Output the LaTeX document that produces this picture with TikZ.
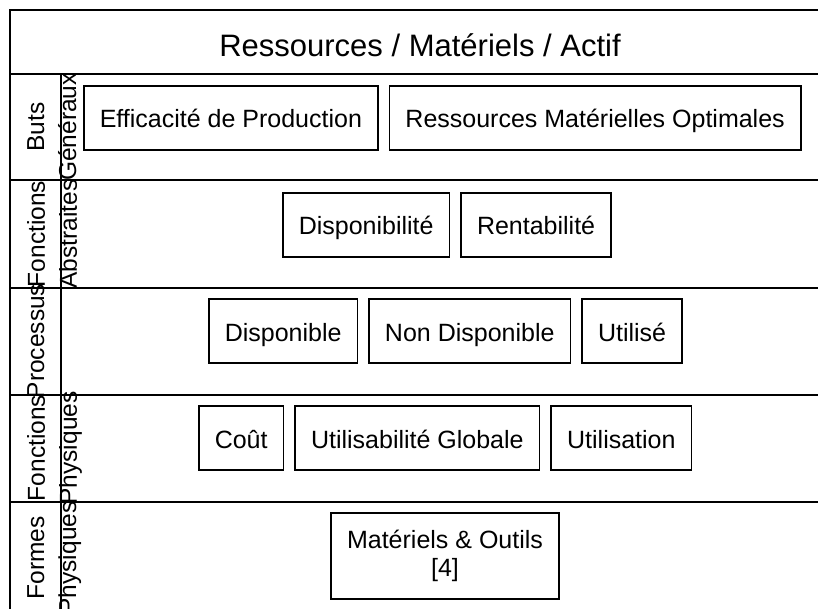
\documentclass[tikz,border=0pt]{standalone}
\usepackage{fontspec}
\setmainfont{Liberation Sans}
\usetikzlibrary{positioning}

\begin{document}
\begin{tikzpicture}[x=1pt, y=-1pt,
    every node/.style={font=\fontsize{25}{28}\selectfont},
    cellframe/.style={draw, line width=1.5pt, inner xsep=16pt, inner ysep=0pt},
    cell/.style={cellframe, minimum height=64pt, text height=20pt, text depth=0pt},
    level/.style={rotate=90, anchor=north, align=center, inner sep=0pt,
      font=\fontsize{24.5}{32}\selectfont},
    rule/.style={line width=2.2pt}]
  \useasboundingbox (0,0) rectangle (818,609);
  \clip (0,0) rectangle (818,609);

  \draw[rule] (830,10) -- (10,10) -- (10,630);
  \foreach \y in {74,180,288,395,502}
    \draw[rule] (10,\y) -- (830,\y);
  \draw[rule] (61,74) -- (61,630);

  \node[anchor=base, font=\fontsize{31}{36}\selectfont] (title) at (420,57) {Ressources / Matériels / Actif};

  \node[level] (buts) at (27,127) {Buts\\Généraux};
  \node[level] (abstr) at (27,234) {Fonctions\\Abstraites};
  \node[level] (proc) at (27,341) {Processus};
  \node[level] (phys) at (27,448) {Fonctions\\Physiques};
  \node[level] (formes) at (27,558) {Formes\\Physiques};

  \node[cell, anchor=west] (eff) at (83,118) {Efficacité de Production};
  \node[cell, right=10pt of eff] (rmo) {Ressources Matérielles Optimales};

  \node[cell, anchor=west] (dispo) at (282,225) {Disponibilité};
  \node[cell, right=10pt of dispo] (rent) {Rentabilité};

  \node[cell, anchor=west] (disp) at (208,331) {Disponible};
  \node[cell, right=10pt of disp] (nondisp) {Non Disponible};
  \node[cell, right=10pt of nondisp] (util) {Utilisé};

  \node[cell, anchor=west] (cout) at (198,438) {Coût};
  \node[cell, right=10pt of cout] (ug) {Utilisabilité Globale};
  \node[cell, right=10pt of ug] (usage) {Utilisation};

  \node[cellframe, align=center, minimum height=86pt] (mat) at (445,556) {Matériels \& Outils\\{[4]}};
\end{tikzpicture}
\end{document}
